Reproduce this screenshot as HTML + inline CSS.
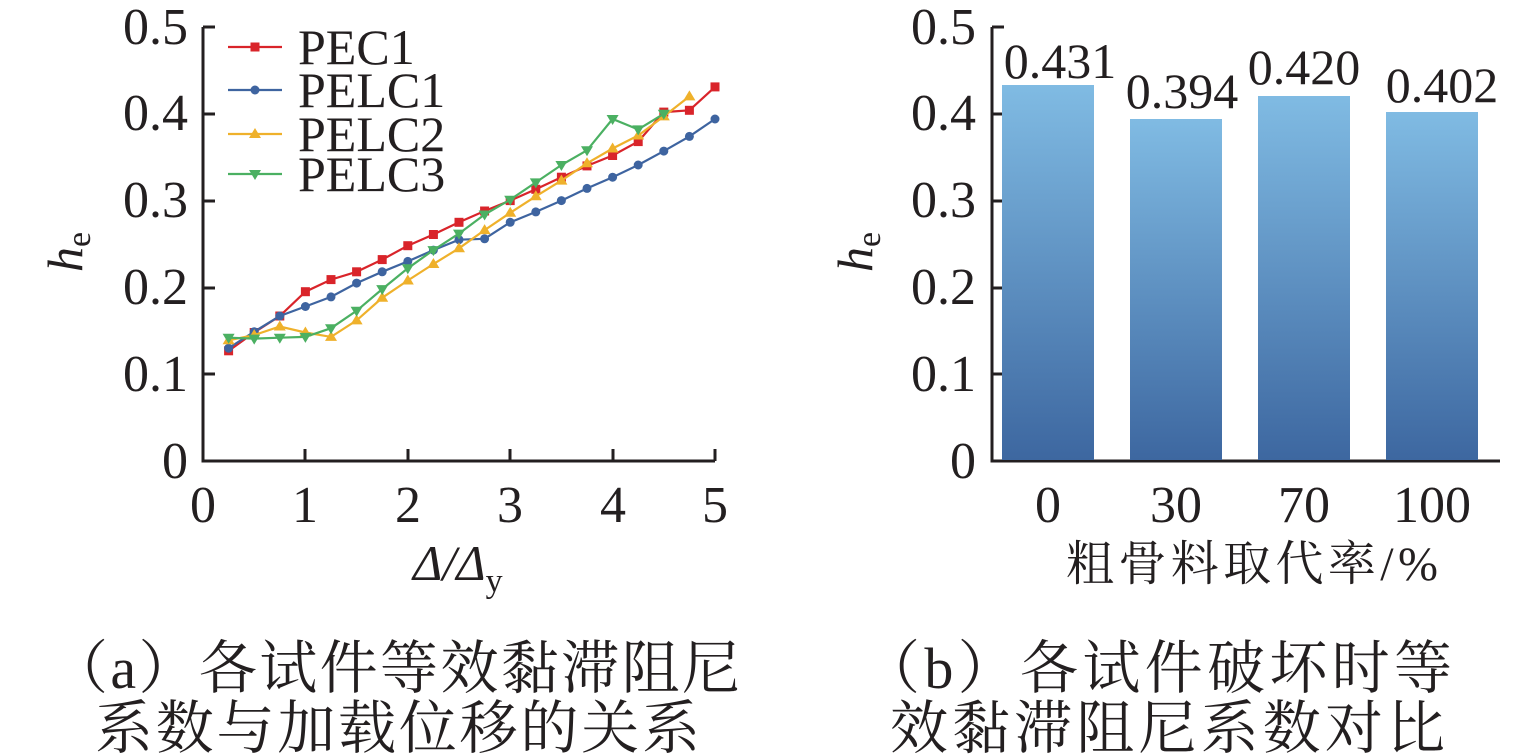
<!DOCTYPE html>
<html><head><meta charset="utf-8"><style>
body{margin:0;background:#fff;width:1535px;height:756px;overflow:hidden}
svg{display:block}
.t{font-family:"Liberation Serif","Noto Serif CJK SC",serif;fill:#231f20}
</style></head><body>
<svg id="s" width="1535" height="756" viewBox="0 0 1535 756" xmlns="http://www.w3.org/2000/svg">
<defs><linearGradient id="g" x1="0" y1="0" x2="0" y2="1"><stop offset="0" stop-color="#80bbe3"/><stop offset="1" stop-color="#3d67a0"/></linearGradient></defs>
<g class="t" font-size="52" text-anchor="end">
<text x="188" y="478">0</text><text x="188" y="391">0.1</text><text x="188" y="304">0.2</text><text x="188" y="217">0.3</text><text x="188" y="130">0.4</text><text x="188" y="44">0.5</text>
<text x="976" y="478">0</text><text x="976" y="391">0.1</text><text x="976" y="304">0.2</text><text x="976" y="217">0.3</text><text x="976" y="130">0.4</text><text x="976" y="44">0.5</text>
</g>
<g class="t" font-size="52" text-anchor="middle">
<text x="203" y="522">0</text><text x="305" y="522">1</text><text x="408" y="522">2</text><text x="510" y="522">3</text><text x="613" y="522">4</text><text x="715" y="522">5</text>
<text x="1048" y="522">0</text><text x="1176" y="522">30</text><text x="1304" y="522">70</text><text x="1432" y="522">100</text>
</g>
<g class="t" font-size="50" text-anchor="middle">
<text x="1060" y="78">0.431</text><text x="1182" y="108">0.394</text><text x="1304" y="84">0.420</text><text x="1442" y="102">0.402</text>
</g>
<text class="t" x="413" y="580" font-size="50" font-style="italic">Δ/Δ<tspan font-size="34" font-style="normal" dy="12">y</tspan></text>
<text class="t" x="1252" y="580" font-size="48" text-anchor="middle" textLength="372">粗骨料取代率/%</text>
<text class="t" font-size="50" font-style="italic" transform="translate(82,272) rotate(-90)">h<tspan font-size="34" font-style="normal" dy="8">e</tspan></text>
<text class="t" font-size="50" font-style="italic" transform="translate(872,272) rotate(-90)">h<tspan font-size="34" font-style="normal" dy="8">e</tspan></text>
<g class="t" font-size="58">
<text x="50" y="688" textLength="690">（a）各试件等效黏滞阻尼</text><text x="95" y="748" textLength="605">系数与加载位移的关系</text>
<text x="862" y="688" textLength="590">（b）各试件破坏时等</text><text x="890" y="748" textLength="555">效黏滞阻尼系数对比</text>
</g>
<g stroke="#231f20" stroke-width="3" fill="none">
<path d="M203 27V461H715"/>
<path d="M203 27h12M203 114h12M203 201h12M203 288h12M203 374h12"/>
<path d="M305 461v-12M408 461v-12M510 461v-12M613 461v-12M715 461v-12"/>
<path d="M992 27V461H1500"/>
<path d="M992 27h12M992 114h12M992 201h12M992 288h12M992 374h12"/>
</g>
<g fill="url(#g)">
<rect x="1002" y="85" width="92" height="375"/><rect x="1130" y="119" width="92" height="341"/><rect x="1258" y="96" width="92" height="364"/><rect x="1386" y="112" width="92" height="348"/>
</g>
<g id="lines"></g>
<g class="t" font-size="50">
<text x="298" y="64">PEC1</text><text x="298" y="107">PELC1</text><text x="298" y="151">PELC2</text><text x="298" y="191">PELC3</text>
</g>
</svg>
<script>
var S=[
["#d9242a","sq",[.127,.148,.167,.195,.209,.218,.232,.248,.261,.275,.288,.300,.313,.327,.340,.352,.368,.402,.404,.431],47],
["#3e64a0","ci",[.130,.149,.167,.178,.189,.205,.218,.230,.243,.255,.256,.275,.287,.300,.314,.327,.341,.357,.374,.394],90],
["#efb12b","tu",[.139,.145,.155,.148,.143,.162,.188,.208,.227,.245,.266,.286,.305,.323,.343,.360,.375,.397,.420],134],
["#4bb062","td",[.142,.141,.142,.143,.153,.173,.198,.222,.243,.262,.284,.301,.321,.341,.358,.394,.382,.400],174]];
var g=document.getElementById('lines'),h='';
function mk(t,x,y,c){if(t=='sq')return '<rect x="'+(x-4.5)+'" y="'+(y-4.5)+'" width="9" height="9" fill="'+c+'"/>';
if(t=='ci')return '<circle cx="'+x+'" cy="'+y+'" r="4.5" fill="'+c+'"/>';
if(t=='tu')return '<path d="M'+x+' '+(y-6)+'L'+(x+6)+' '+(y+4)+'L'+(x-6)+' '+(y+4)+'Z" fill="'+c+'"/>';
return '<path d="M'+x+' '+(y+6)+'L'+(x+6)+' '+(y-4)+'L'+(x-6)+' '+(y-4)+'Z" fill="'+c+'"/>';}
S.forEach(function(s){var p=[],m='';s[2].forEach(function(v,i){var x=203+(i+1)*0.25*102.4,y=461-v*868;p.push(x.toFixed(1)+','+y.toFixed(1));m+=mk(s[1],x.toFixed(1)*1,y.toFixed(1)*1,s[0]);});
h+='<polyline points="'+p.join(' ')+'" fill="none" stroke="'+s[0]+'" stroke-width="2.2"/>'+m;
h+='<line x1="228" x2="282" y1="'+s[3]+'" y2="'+s[3]+'" stroke="'+s[0]+'" stroke-width="2.2"/>'+mk(s[1],255,s[3],s[0]);});
g.innerHTML=h;
</script>
</body></html>
